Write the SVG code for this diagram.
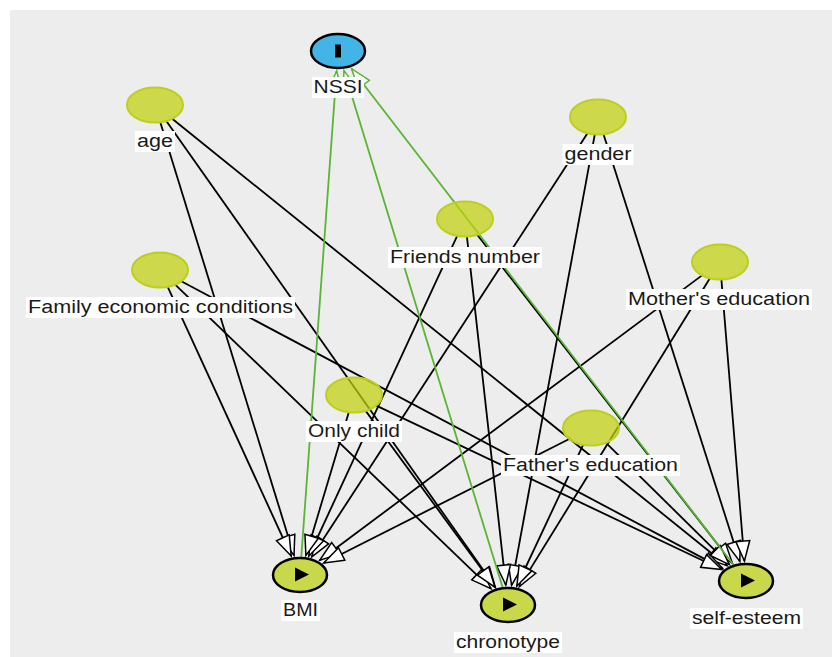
<svg xmlns="http://www.w3.org/2000/svg" width="832" height="657" viewBox="0 0 832 657">
<defs>
<style>
.e{fill:none;stroke:#000;stroke-width:1.8;marker-end:url(#ab)}
.g{fill:none;stroke:#58b535;stroke-width:1.8;marker-end:url(#ag)}
.cov{fill:#c0d10b;fill-opacity:0.72;stroke:#bccf1f;stroke-width:2}
.exp{fill:#c8d84a;stroke:#000;stroke-width:2.5}
.out{fill:#42b4e6;stroke:#000;stroke-width:2.5}
.lb{fill:#fff}
.t{font-family:"Liberation Sans",Arial,sans-serif;font-size:18px;fill:#1a1a1a;text-anchor:middle}
</style>
<marker id="ab" viewBox="-2 -9 25 18" refX="20" refY="0" markerWidth="25" markerHeight="18" markerUnits="userSpaceOnUse" orient="auto">
<path d="M0,-7 L20,0 L0,7 Z" fill="#fff" stroke="#000" stroke-width="1.5"/>
</marker>
<marker id="ag" viewBox="-2 -9 25 18" refX="20" refY="0" markerWidth="25" markerHeight="18" markerUnits="userSpaceOnUse" orient="auto">
<path d="M0,-7 L20,0 L0,7 Z" fill="#fff" stroke="#58b535" stroke-width="1.5"/>
</marker>
</defs>
<rect x="0" y="0" width="832" height="657" fill="#fff"/>
<rect x="10" y="10" width="822" height="647" fill="#ededed"/>
<g id="connectors">
<line class="e" x1="160.3" y1="122.2" x2="294.0" y2="555.4"/>
<line class="e" x1="166.3" y1="121.0" x2="495.3" y2="587.1"/>
<line class="e" x1="172.2" y1="118.8" x2="727.1" y2="565.7"/>
<line class="e" x1="167.7" y1="286.8" x2="291.2" y2="556.0"/>
<line class="e" x1="175.2" y1="284.7" x2="491.0" y2="588.7"/>
<line class="e" x1="181.3" y1="281.3" x2="722.8" y2="568.6"/>
<line class="e" x1="587.5" y1="133.2" x2="311.8" y2="556.8"/>
<line class="e" x1="594.8" y1="134.4" x2="511.6" y2="585.2"/>
<line class="e" x1="603.5" y1="134.2" x2="739.8" y2="561.4"/>
<line class="e" x1="457.2" y1="235.8" x2="308.9" y2="556.0"/>
<line class="e" x1="466.9" y1="236.5" x2="505.8" y2="585.0"/>
<line class="e" x1="477.2" y1="234.7" x2="732.3" y2="563.3"/>
<line class="e" x1="702.0" y1="275.4" x2="319.8" y2="560.2"/>
<line class="e" x1="709.9" y1="278.3" x2="519.4" y2="586.6"/>
<line class="e" x1="721.4" y1="279.5" x2="744.4" y2="561.0"/>
<line class="e" x1="348.8" y1="412.2" x2="305.9" y2="555.4"/>
<line class="e" x1="365.7" y1="410.9" x2="494.9" y2="587.2"/>
<line class="e" x1="376.3" y1="405.6" x2="721.7" y2="569.5"/>
<line class="e" x1="569.2" y1="439.0" x2="323.8" y2="563.0"/>
<line class="e" x1="583.1" y1="444.8" x2="516.9" y2="586.0"/>
<line class="e" x1="606.0" y1="442.8" x2="729.4" y2="564.6"/>
<line class="g" x1="301.2" y1="558.0" x2="336.6" y2="71.0"/>
<line class="g" x1="502.9" y1="588.3" x2="344.0" y2="70.6"/>
<line class="g" x1="734.2" y1="565.7" x2="351.6" y2="68.7"/>
</g>
<g id="node-NSSI">
<ellipse class="out" cx="338" cy="51" rx="27" ry="17"/>
<rect x="335" y="44.5" width="6" height="13" fill="#000"/>
<rect class="lb" x="312" y="77" width="52" height="21"/>
<text class="t" x="338" y="93" textLength="49" lengthAdjust="spacingAndGlyphs">NSSI</text>
</g>
<g id="node-age">
<ellipse class="cov" cx="155" cy="105" rx="28" ry="17.5"/>
<rect class="lb" x="135" y="131" width="40" height="21"/>
<text class="t" x="155" y="147" textLength="36" lengthAdjust="spacingAndGlyphs">age</text>
</g>
<g id="node-gender">
<ellipse class="cov" cx="598" cy="117" rx="28" ry="17.5"/>
<rect class="lb" x="562.5" y="144" width="71" height="21"/>
<text class="t" x="598" y="160" textLength="67" lengthAdjust="spacingAndGlyphs">gender</text>
</g>
<g id="node-friends">
<ellipse class="cov" cx="465" cy="219" rx="28" ry="17.5"/>
<rect class="lb" x="388" y="247" width="154" height="21"/>
<text class="t" x="465" y="263" textLength="150" lengthAdjust="spacingAndGlyphs">Friends number</text>
</g>
<g id="node-family">
<ellipse class="cov" cx="160" cy="270" rx="28" ry="17.5"/>
<rect class="lb" x="26" y="297" width="269" height="21"/>
<text class="t" x="160.5" y="313" textLength="265" lengthAdjust="spacingAndGlyphs">Family economic conditions</text>
</g>
<g id="node-mother">
<ellipse class="cov" cx="720" cy="262" rx="28" ry="17.5"/>
<rect class="lb" x="626" y="289" width="186" height="21"/>
<text class="t" x="719" y="305" textLength="182" lengthAdjust="spacingAndGlyphs">Mother's education</text>
</g>
<g id="node-onlychild">
<ellipse class="cov" cx="354" cy="395" rx="28" ry="17.5"/>
<rect class="lb" x="306" y="421" width="96" height="21"/>
<text class="t" x="354" y="437" textLength="92" lengthAdjust="spacingAndGlyphs">Only child</text>
</g>
<g id="node-father">
<ellipse class="cov" cx="591" cy="428" rx="28" ry="17.5"/>
<rect class="lb" x="501" y="455" width="179" height="21"/>
<text class="t" x="590.5" y="471" textLength="175" lengthAdjust="spacingAndGlyphs">Father's education</text>
</g>
<g id="node-BMI">
<ellipse class="exp" cx="300" cy="575" rx="27" ry="17"/>
<path d="M295,567.5 L309,574.5 L295,581.5 Z" fill="#000"/>
<rect class="lb" x="281" y="600" width="39" height="21"/>
<text class="t" x="300.5" y="616" textLength="35" lengthAdjust="spacingAndGlyphs">BMI</text>
</g>
<g id="node-chronotype">
<ellipse class="exp" cx="508" cy="605" rx="27" ry="17"/>
<path d="M503,597.5 L517,604.5 L503,611.5 Z" fill="#000"/>
<rect class="lb" x="454" y="632" width="108" height="21"/>
<text class="t" x="508" y="648" textLength="104" lengthAdjust="spacingAndGlyphs">chronotype</text>
</g>
<g id="node-selfesteem">
<ellipse class="exp" cx="746" cy="581" rx="27" ry="17"/>
<path d="M741,573.5 L755,580.5 L741,587.5 Z" fill="#000"/>
<rect class="lb" x="690" y="608" width="113" height="21"/>
<text class="t" x="746.5" y="624" textLength="109" lengthAdjust="spacingAndGlyphs">self-esteem</text>
</g>
</svg>
